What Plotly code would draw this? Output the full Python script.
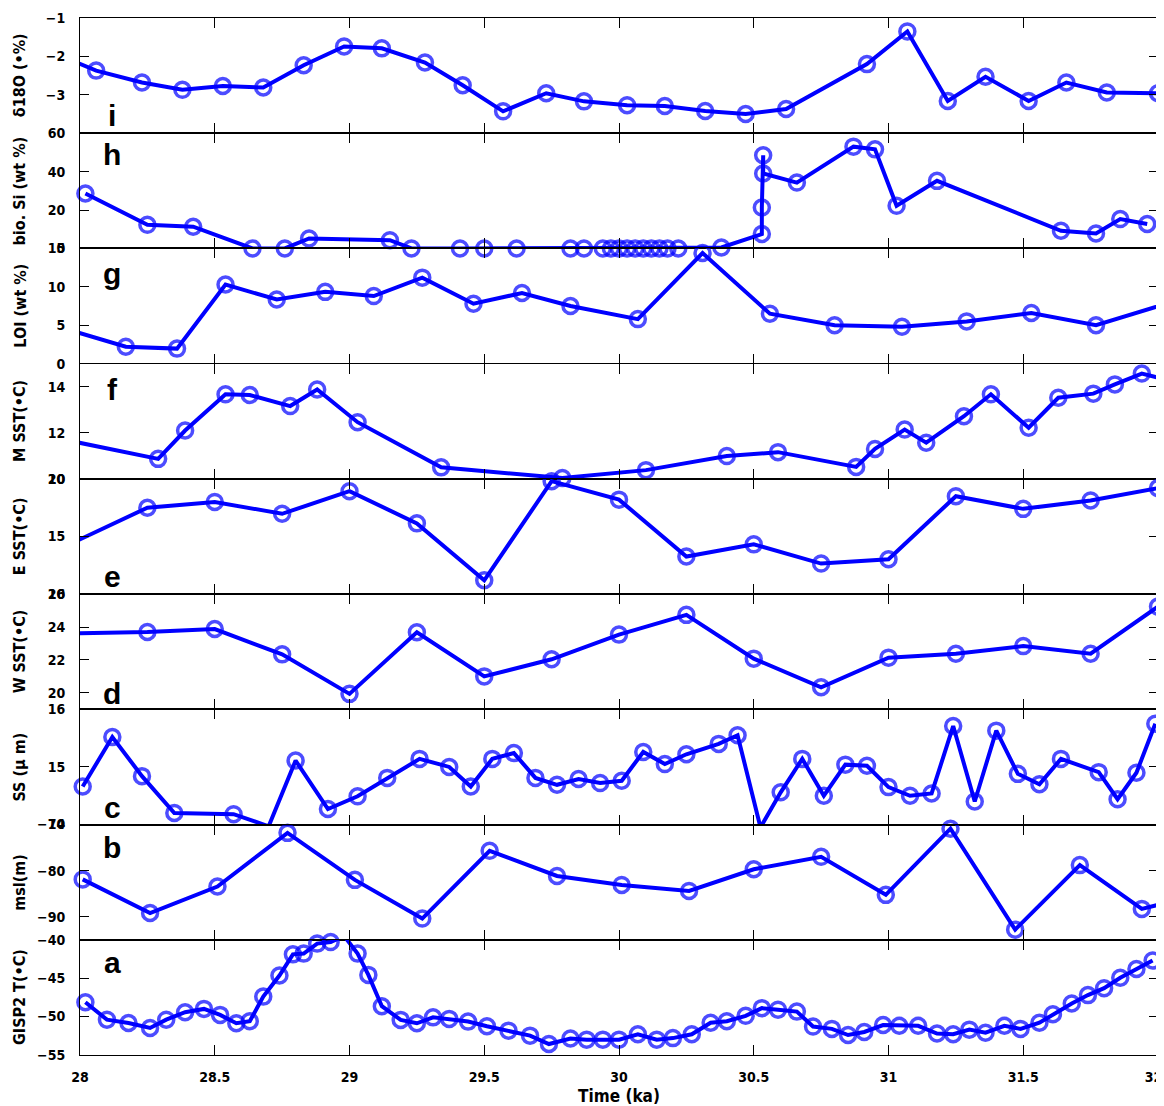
import plotly.graph_objects as go
from plotly.subplots import make_subplots

# panel i: d18O
i_time = [27.95, 28.06, 28.23, 28.38, 28.53, 28.68, 28.83, 28.98, 29.12, 29.28, 29.42, 29.57,
          29.73, 29.87, 30.03, 30.17, 30.32, 30.47, 30.62, 30.92, 31.07, 31.22, 31.36, 31.52,
          31.66, 31.81, 32.0]
i_d18o = [-2.05, -2.37, -2.68, -2.87, -2.77, -2.81, -2.23, -1.74, -1.79, -2.16, -2.75, -3.43,
          -2.96, -3.17, -3.27, -3.29, -3.42, -3.50, -3.37, -2.2, -1.35, -3.16, -2.53, -3.16,
          -2.68, -2.94, -2.96]

# panel h: biogenic silica
h_time = [28.02, 28.25, 28.42, 28.64, 28.76, 28.85, 29.15, 29.23, 29.41, 29.5, 29.62, 29.82,
          29.87, 29.94, 29.97, 30.0, 30.03, 30.06, 30.09, 30.12, 30.15, 30.18, 30.22, 30.38,
          30.53, 30.53, 30.535, 30.535, 30.66, 30.87, 30.95, 31.03, 31.18, 31.64, 31.77, 31.86,
          31.96]
h_biosi = [28.6, 12.3, 11.3, 0.0, 0.0, 5.2, 4.3, 0.0, 0.0, 0.0, 0.0, 0.0,
           0.0, 0.0, 0.0, 0.0, 0.0, 0.0, 0.0, 0.0, 0.0, 0.0, 0.0, 0.5,
           7.5, 21.3, 48.5, 39.0, 34.3, 53.0, 51.6, 22.2, 35.2, 9.2, 7.8, 15.3,
           12.7]

# panel g: LOI
g_time = [27.95, 28.17, 28.36, 28.54, 28.73, 28.91, 29.09, 29.27, 29.46, 29.64, 29.82, 30.07,
          30.31, 30.56, 30.80, 31.05, 31.29, 31.53, 31.77, 32.05]
g_loi = [4.5, 2.2, 1.96, 10.3, 8.35, 9.35, 8.8, 11.2, 7.8, 9.2, 7.5, 5.8,
         14.4, 6.5, 5.0, 4.8, 5.5, 6.6, 5.0, 8.0]

# panel f: M SST
f_time = [27.9, 28.29, 28.39, 28.54, 28.63, 28.78, 28.88, 29.03, 29.34, 29.79, 30.1, 30.40,
          30.59, 30.88, 30.95, 31.06, 31.14, 31.28, 31.38, 31.52, 31.63, 31.76, 31.84, 31.94,
          32.05]
f_sst = [11.8, 10.87, 12.1, 13.67, 13.64, 13.16, 13.88, 12.46, 10.5, 10.04, 10.38, 10.99,
         11.16, 10.52, 11.3, 12.14, 11.57, 12.72, 13.67, 12.22, 13.52, 13.7, 14.1, 14.57,
         14.25]

# panel e: E SST
e_time = [27.95, 28.25, 28.5, 28.75, 29.0, 29.25, 29.5, 29.75, 30.0, 30.25, 30.5, 30.75,
          31.0, 31.25, 31.5, 31.75, 32.0]
e_sst = [14.2, 17.5, 18.0, 16.97, 18.93, 16.14, 11.2, 19.8, 18.2, 13.26, 14.32, 12.65,
         13.03, 18.5, 17.4, 18.13, 19.2]

# panel d: W SST
d_time = [27.9, 28.25, 28.5, 28.75, 29.0, 29.25, 29.5, 29.75, 30.0, 30.25, 30.5, 30.75,
          31.0, 31.25, 31.5, 31.75, 32.0]
d_sst = [23.6, 23.7, 23.88, 22.34, 19.94, 23.68, 21.0, 22.04, 23.54, 24.74, 22.08, 20.34,
         22.14, 22.38, 22.84, 22.38, 25.24]

# panel c: sortable silt
c_time = [28.01, 28.12, 28.23, 28.35, 28.57, 28.70, 28.8, 28.92, 29.03, 29.14, 29.26, 29.37,
          29.45, 29.53, 29.61, 29.69, 29.77, 29.85, 29.93, 30.01, 30.09, 30.17, 30.25, 30.37,
          30.44, 30.525, 30.6, 30.68, 30.76, 30.84, 30.92, 31.0, 31.08, 31.16, 31.24, 31.32,
          31.4, 31.48, 31.56, 31.64, 31.78, 31.85, 31.92, 31.99]
c_ss = [14.66, 15.52, 14.84, 14.2, 14.18, 13.97, 15.11, 14.27, 14.49, 14.81, 15.14, 15.0,
        14.66, 15.14, 15.24, 14.81, 14.69, 14.79, 14.72, 14.76, 15.26, 15.05, 15.22, 15.4,
        15.55, 13.95, 14.56, 15.14, 14.5, 15.04, 15.02, 14.65, 14.5, 14.54, 15.71, 14.4,
        15.63, 14.88, 14.7, 15.14, 14.91, 14.44, 14.9, 15.75]

# panel b: mean sea level
b_time = [28.01, 28.26, 28.51, 28.77, 29.02, 29.27, 29.52, 29.77, 30.01, 30.26, 30.5, 30.75,
          30.99, 31.23, 31.47, 31.71, 31.94, 32.05]
b_msl = [-81.9, -89.2, -83.45, -71.8, -82.0, -90.4, -75.7, -81.15, -83.1, -84.4, -79.7, -77.0,
         -85.25, -70.9, -92.8, -78.8, -88.3, -86.7]

# panel a: GISP2 temperature
a_time = [28.02, 28.10, 28.18, 28.26, 28.32, 28.39, 28.46, 28.52, 28.58, 28.63, 28.68, 28.74,
          28.79, 28.83, 28.88, 28.93, 28.98, 29.03, 29.07, 29.12, 29.19, 29.25, 29.31, 29.37,
          29.44, 29.51, 29.59, 29.67, 29.74, 29.82, 29.88, 29.94, 30.0, 30.07, 30.14, 30.2,
          30.27, 30.34, 30.4, 30.47, 30.53, 30.59, 30.66, 30.72, 30.79, 30.85, 30.91, 30.98,
          31.04, 31.11, 31.18, 31.24, 31.3, 31.36, 31.43, 31.49, 31.56, 31.61, 31.68, 31.74,
          31.8, 31.86, 31.92, 31.98]
a_temp = [-48.13, -50.4, -50.83, -51.48, -50.4, -49.43, -49.0, -49.78, -50.87, -50.6, -47.4, -44.65,
          -41.9, -41.8, -40.5, -40.3, -39.5, -41.8, -44.57, -48.65, -50.43, -50.87, -50.1, -50.3,
          -50.65, -51.26, -51.83, -52.48, -53.57, -52.85, -53.0, -53.0, -53.0, -52.3, -53.0, -52.8,
          -52.3, -50.8, -50.6, -49.9, -48.9, -49.1, -49.35, -51.3, -51.6, -52.4, -52.0, -51.1,
          -51.2, -51.2, -52.2, -52.3, -51.7, -52.1, -51.2, -51.6, -50.8, -49.7, -48.3, -47.2,
          -46.3, -44.95, -43.8, -42.7]

panel_titles = ["δ18O (•%)", "bio. Si (wt %)", "LOI (wt %)", "M SST(•C)", "E SST(•C)",
                "W SST(•C)", "SS (μ m)", "msl(m)", "GISP2 T(•C)"]
panel_letters = ["i", "h", "g", "f", "e", "d", "c", "b", "a"]
letter_y = [0.906, 0.868, 0.754, 0.642, 0.461, 0.349, 0.239, 0.200, 0.089]
y_ranges = [[-4, -1], [0, 60], [0, 15], [10, 15], [10, 20], [19, 26], [14, 16], [-95, -70], [-55, -40]]
y_ticks = [[-3, -2, -1], [0, 20, 40, 60], [0, 5, 10, 15], [10, 12, 14], [10, 15, 20],
           [20, 22, 24, 26], [14, 15, 16], [-90, -80, -70], [-55, -50, -45, -40]]
x_ticks = [28, 28.5, 29, 29.5, 30, 30.5, 31, 31.5, 32]
# last label padded so it sits against the right edge like the original
x_tick_text = ["28", "28.5", "29", "29.5", "30", "30.5", "31", "31.5", "32\u00a0\u00a0"]

series = [(i_time, i_d18o), (h_time, h_biosi), (g_time, g_loi), (f_time, f_sst), (e_time, e_sst),
          (d_time, d_sst), (c_time, c_ss), (b_time, b_msl), (a_time, a_temp)]

BLUE = "#0000ff"
FONT = "Liberation Sans Narrow, Arial Narrow, DejaVu Sans Condensed, Liberation Sans, sans-serif"

fig = make_subplots(rows=9, cols=1, shared_xaxes=True, vertical_spacing=0)

for k, (t, v) in enumerate(series):
    lo, hi = y_ranges[k]
    # matlab style: markers only where the point is inside the axes
    sizes = [15 if (28 <= tt <= 32 and lo <= vv <= hi) else 0 for tt, vv in zip(t, v)]
    fig.add_trace(go.Scatter(
        x=t, y=v, mode="lines+markers", cliponaxis=False,
        line=dict(color=BLUE, width=4),
        marker=dict(symbol="circle-open", size=sizes, color=BLUE, line=dict(width=3.5, color=BLUE)),
        showlegend=False,
    ), row=k + 1, col=1)
    fig.update_yaxes(range=y_ranges[k], tickvals=y_ticks[k], row=k + 1, col=1)

fig.update_xaxes(range=[28, 32], tickvals=x_ticks, ticktext=x_tick_text, ticks="inside",
                 ticklen=10, tickwidth=1.2,
                 tickcolor="black", showline=True, linecolor="black", linewidth=1,
                 mirror="allticks", showgrid=False, zeroline=False, automargin=False,
                 ticklabelstandoff=9, ticklabeloverflow="allow",
                 tickfont=dict(family=FONT, size=14, color="black", weight="bold"))
fig.update_yaxes(ticks="inside", ticklen=9, tickwidth=1.2, tickcolor="black",
                 showline=True, linecolor="black", linewidth=1, mirror="allticks",
                 showgrid=False, zeroline=False, ticklabelstandoff=11, automargin=False,
                 ticklabeloverflow="allow",
                 tickfont=dict(family=FONT, size=14, color="black", weight="bold"))
fig.update_xaxes(title=dict(text="Time (ka)", standoff=6,
                            font=dict(family=FONT, size=17, color="black", weight="bold")),
                 row=9, col=1)

for k in range(9):
    fig.add_annotation(text=panel_letters[k], xref="paper", yref="paper", x=0.030, y=letter_y[k],
                       xanchor="center", yanchor="middle", showarrow=False,
                       font=dict(family="Liberation Sans, Arial, sans-serif", size=30,
                                 color="black", weight="bold"))
    fig.add_annotation(text=panel_titles[k], xref="paper", yref="paper", x=-0.056,
                       y=1 - (k + 0.5) / 9, textangle=-90, xanchor="center", yanchor="middle",
                       showarrow=False,
                       font=dict(family=FONT, size=16, color="black", weight="bold"))

# page body has an 8px margin, so the figure is a little smaller than the window
fig.update_layout(width=1156, height=1098, plot_bgcolor="white", paper_bgcolor="white",
                  margin=dict(l=72, r=6, t=10, b=51))

fig.write_html("out.html")
